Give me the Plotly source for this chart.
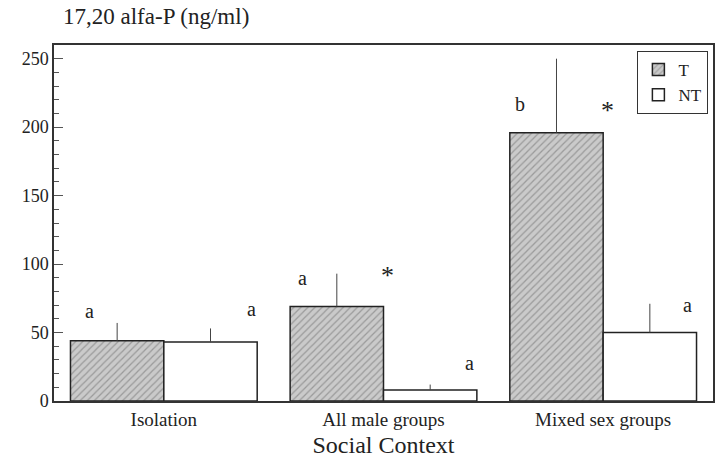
import plotly.graph_objects as go

categories = ["Isolation", "All male groups", "Mixed sex groups"]
t_values = [44, 69, 196]
t_err_top = [57, 93, 250]
nt_values = [43, 8, 50]
nt_err_top = [53, 12, 71]
y_ticks = [0, 50, 100, 150, 200, 250]

# significance labels: (text, x in category units, y in data units)
sig_text = ["a", "a", "a", "*", "a", "b", "*", "a"]
sig_x = [-0.34, 0.40, 0.633, 1.016, 1.393, 1.62, 2.02, 2.386]
sig_y = [66, 67, 90, 92, 28, 217, 212, 70]

xs = list(range(len(categories)))
FONT = "Liberation Serif, Times New Roman, serif"

fig = go.Figure()
fig.add_trace(go.Bar(
    x=xs, y=t_values, name="T",
    marker=dict(color="#c4c4c4", line=dict(color="#222", width=1.5),
                pattern=dict(shape="/", fgcolor="#6a6a6a", bgcolor="#cacaca", size=5, solidity=0.25)),
    error_y=dict(type="data", symmetric=False,
                 array=[e - v for e, v in zip(t_err_top, t_values)],
                 arrayminus=[0] * len(t_values), width=0, thickness=1, color="#444"),
))
fig.add_trace(go.Bar(
    x=xs, y=nt_values, name="NT",
    marker=dict(color="white", line=dict(color="#222", width=1.5)),
    error_y=dict(type="data", symmetric=False,
                 array=[e - v for e, v in zip(nt_err_top, nt_values)],
                 arrayminus=[0] * len(nt_values), width=0, thickness=1, color="#444"),
))

for t, x, y in zip(sig_text, sig_x, sig_y):
    fig.add_annotation(x=x, y=y, xref="x", yref="y", text=t, showarrow=False,
                       font=dict(family=FONT, size=26 if t == "*" else 20, color="#222"))

fig.add_annotation(x=0, y=1, xref="paper", yref="paper", xanchor="left", yanchor="middle",
                   xshift=7, yshift=29,
                   text="17,20 alfa-P (ng/ml)", showarrow=False,
                   font=dict(family=FONT, size=23, color="#222"))

fig.update_layout(
    width=724, height=462,
    margin=dict(l=54, r=11, t=45, b=61),
    paper_bgcolor="white", plot_bgcolor="white",
    barmode="group", bargap=0.15, bargroupgap=0,
    font=dict(family=FONT, color="#222"),
    legend=dict(x=0.993, y=0.983, xanchor="right", yanchor="top",
                bordercolor="#333", borderwidth=1, bgcolor="white",
                font=dict(family=FONT, size=17, color="#222"),
                itemwidth=30, tracegroupgap=4),
    xaxis=dict(tickvals=xs, ticktext=categories, range=[-0.5, 2.5], automargin=False,
               showline=True, linecolor="#333", linewidth=1.5, mirror=True,
               ticks="", tickfont=dict(family=FONT, size=19),
               title=dict(text="Social Context", font=dict(family=FONT, size=24), standoff=8)),
    yaxis=dict(range=[0, 260], tickvals=y_ticks, showgrid=False, zeroline=False, automargin=False,
               showline=True, linecolor="#333", linewidth=1.5, mirror=True,
               ticks="inside", ticklen=9, tickcolor="#555", tickwidth=1,
               minor=dict(dtick=10, ticks="inside", ticklen=5, tickcolor="#555", showgrid=False),
               tickfont=dict(family=FONT, size=18)),
)

fig.write_html("out.html", config={"displayModeBar": False},
               post_script="document.body.style.margin='0px';")
